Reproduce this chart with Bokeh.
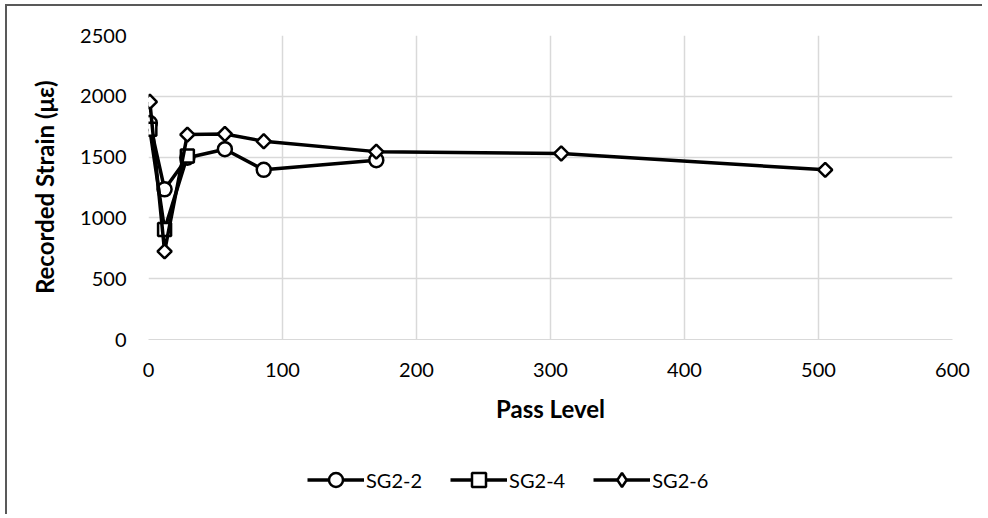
from bokeh.plotting import figure
from bokeh.layouts import column
from bokeh.models import (FixedTicker, Range1d, Legend, LegendItem)
from bokeh.embed import file_html
from bokeh.resources import INLINE

# Data
sg22_x = [1, 12, 29, 57, 86, 170]
sg22_y = [1780, 1235, 1495, 1565, 1395, 1475]
sg24_x = [1, 12, 29]
sg24_y = [1730, 905, 1510]
sg26_x = [1, 12, 29, 57, 86, 170, 308, 505]
sg26_y = [1955, 725, 1685, 1690, 1630, 1545, 1530, 1395]

x_ticks = [0, 100, 200, 300, 400, 500, 600]
y_ticks = [0, 500, 1000, 1500, 2000, 2500]
series_names = ["SG2-2", "SG2-4", "SG2-6"]

FONT = "Lato"
GRID = "#d9d9d9"
LW = 3.5
MLW = 2.5

p = figure(width=975, height=423, output_backend="svg", toolbar_location=None,
           x_range=Range1d(0, 600), y_range=Range1d(0, 2500),
           min_border_left=141, min_border_right=30,
           min_border_top=29, min_border_bottom=90)
p.outline_line_color = None
p.background_fill_color = "white"
p.border_fill_color = "white"

p.xaxis.ticker = FixedTicker(ticks=x_ticks)
p.yaxis.ticker = FixedTicker(ticks=y_ticks)
for ax in (p.xaxis, p.yaxis):
    ax.major_tick_line_color = None
    ax.minor_tick_line_color = None
    ax.major_label_text_font = FONT
    ax.major_label_text_font_size = "20px"
    ax.major_label_text_color = "#000000"
    ax.axis_label_text_font = FONT
    ax.axis_label_text_font_size = "24px"
    ax.axis_label_text_font_style = "bold"
    ax.axis_label_text_color = "#000000"
p.xaxis.axis_line_color = GRID
p.yaxis.axis_line_color = None
p.xaxis.axis_label = "Pass Level"
p.yaxis.axis_label = "Recorded Strain (με)"
p.xaxis.major_label_standoff = 17
p.yaxis.major_label_standoff = 16
p.xaxis.axis_label_standoff = 14
p.yaxis.axis_label_standoff = 18

p.xgrid.grid_line_color = GRID
p.ygrid.grid_line_color = GRID
p.xgrid.grid_line_width = 1.5
p.ygrid.grid_line_width = 1.5

p.line(sg22_x, sg22_y, line_color="black", line_width=LW)
p.scatter(sg22_x, sg22_y, marker="circle", size=14, fill_color="white",
          line_color="black", line_width=MLW)
p.line(sg24_x, sg24_y, line_color="black", line_width=LW)
p.scatter(sg24_x, sg24_y, marker="square", size=13, fill_color="white",
          line_color="black", line_width=MLW)
p.line(sg26_x, sg26_y, line_color="black", line_width=LW)
p.scatter(sg26_x, sg26_y, marker="square", angle=0.785398, size=10,
          fill_color="white", line_color="black", line_width=MLW)

# Legend strip below the chart (series proxies lie outside its visible range)
p2 = figure(width=975, height=85, output_backend="svg", toolbar_location=None,
            x_range=Range1d(0, 1), y_range=Range1d(0, 1),
            x_axis_type=None, y_axis_type=None,
            min_border_left=0, min_border_right=0, min_border_top=0, min_border_bottom=0)
p2.outline_line_color = None
p2.grid.visible = False
p2.background_fill_color = "white"
p2.border_fill_color = "white"

markers = ["circle", "square", "diamond"]
series = [(sg22_x, sg22_y), (sg24_x, sg24_y), (sg26_x, sg26_y)]
items = []
for name, mk, (sx, sy) in zip(series_names, markers, series):
    rl = p2.line(sx, sy, line_color="black", line_width=LW)
    rs = p2.scatter(sx, sy, marker=mk, fill_color="white", line_color="black",
                    line_width=MLW)
    items.append(LegendItem(label=name, renderers=[rl, rs]))

legend = Legend(items=items, orientation="horizontal", location=(159, 17))
legend.label_text_font = FONT
legend.label_text_font_size = "20px"
legend.label_text_color = "#000000"
legend.glyph_width = 57
legend.glyph_height = 35
legend.label_standoff = 2
legend.spacing = 28
legend.padding = 0
legend.margin = 0
legend.border_line_color = None
legend.background_fill_alpha = 0
p2.add_layout(legend, "center")

layout = column(p, p2, styles={"border-left": "2px solid #595959",
                               "border-top": "2px solid #595959",
                               "margin-left": "5px", "margin-top": "4px"})

open("out.html", "w").write(file_html(layout, INLINE))
